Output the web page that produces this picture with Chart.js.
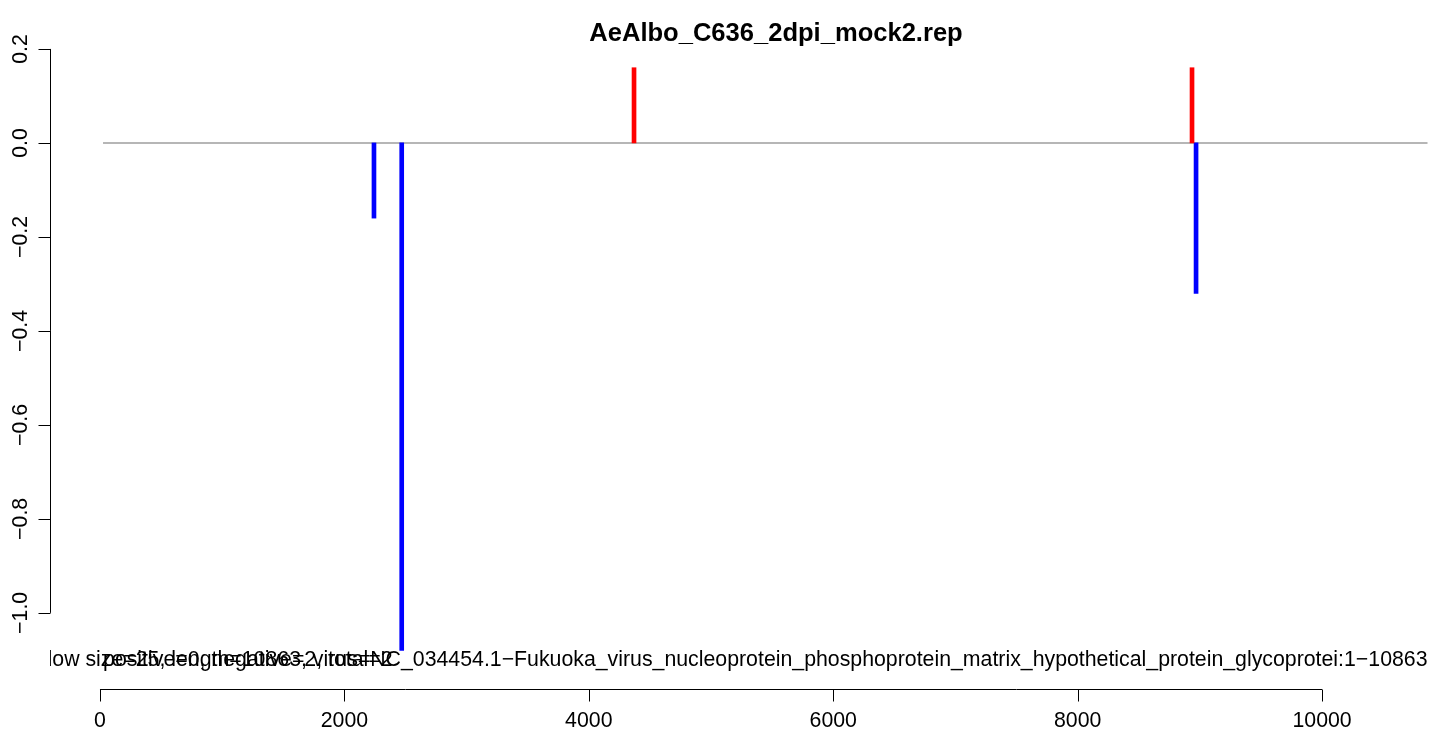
<!DOCTYPE html>
<html>
<head>
<meta charset="utf-8">
<script src="https://cdn.jsdelivr.net/npm/chart.js@4"></script>
<style>
  body { margin: 0; background: #fff; }
  canvas { display: block; }
</style>
</head>
<body>
<canvas id="repChart" width="1439" height="740"></canvas>
<script>
// data
const plusPos = [4370, 8936];
const plusVal = [0.16, 0.16];
const minusPos = [2242, 2469, 8969];
const minusVal = [-0.16, -1.08, -0.32];
const genomeStart = 25;
const genomeEnd = 10863;
const xTicks = [0, 2000, 4000, 6000, 8000, 10000];
const yTicks = [-1.0, -0.8, -0.6, -0.4, -0.2, 0.0, 0.2];

const titleText = 'AeAlbo_C636_2dpi_mock2.rep';
const infoText = 'window size=25, length=10863, virus=NC_034454.1\u2212Fukuoka_virus_nucleoprotein_phosphoprotein_matrix_hypothetical_protein_glycoprotei:1\u221210863';
const countText = 'positive=0, negative=2, total=2';

const FONT = '"Liberation Sans", Arial, Helvetica, sans-serif';
const BASE = 21.3;

function toPoints(xs, ys) {
  return xs.map((x, i) => ({ x: x, y: ys[i] }));
}

// R style axes and texts
const rAxes = {
  id: 'rAxes',
  afterDraw(chart) {
    const ctx = chart.ctx;
    const xs = chart.scales.x;
    const ys = chart.scales.y;
    const area = chart.chartArea;
    ctx.save();
    ctx.strokeStyle = '#000';
    ctx.fillStyle = '#000';
    ctx.lineWidth = 1;

    // x axis
    const yb = area.bottom + 0.5;
    ctx.beginPath();
    ctx.moveTo(xs.getPixelForValue(xTicks[0]), yb);
    ctx.lineTo(xs.getPixelForValue(xTicks[xTicks.length - 1]), yb);
    xTicks.forEach(t => {
      const px = Math.round(xs.getPixelForValue(t)) + 0.5;
      ctx.moveTo(px, yb);
      ctx.lineTo(px, yb + 12);
    });
    ctx.stroke();
    ctx.font = BASE + 'px ' + FONT;
    ctx.textAlign = 'center';
    ctx.textBaseline = 'middle';
    xTicks.forEach(t => {
      ctx.fillText(String(t), xs.getPixelForValue(t), yb + 32);
    });

    // y axis
    const xl = area.left + 0.5;
    ctx.beginPath();
    ctx.moveTo(xl, ys.getPixelForValue(yTicks[0]));
    ctx.lineTo(xl, ys.getPixelForValue(yTicks[yTicks.length - 1]));
    yTicks.forEach(t => {
      const py = Math.round(ys.getPixelForValue(t)) + 0.5;
      ctx.moveTo(xl, py);
      ctx.lineTo(xl - 12, py);
    });
    ctx.stroke();
    yTicks.forEach(t => {
      ctx.save();
      ctx.translate(xl - 29, ys.getPixelForValue(t));
      ctx.rotate(-Math.PI / 2);
      ctx.fillText(t.toFixed(1).replace('-', '\u2212'), 0, 0);
      ctx.restore();
    });

    // title
    ctx.font = 'bold ' + (BASE * 1.2) + 'px ' + FONT;
    ctx.fillText(titleText, 776, 34);

    // texts inside the plot, clipped like R
    ctx.beginPath();
    ctx.rect(area.left, area.top, area.right - area.left, area.bottom - area.top);
    ctx.clip();
    ctx.font = BASE + 'px ' + FONT;
    const ty = ys.getPixelForValue(-1.1);
    ctx.textAlign = 'right';
    ctx.fillText(infoText, xs.getPixelForValue(genomeEnd), ty);
    ctx.textAlign = 'left';
    ctx.fillText(countText, xs.getPixelForValue(genomeStart), ty);
    ctx.restore();
  }
};

new Chart(document.getElementById('repChart'), {
  type: 'bar',
  data: {
    datasets: [
      {
        type: 'line',
        label: 'baseline',
        data: toPoints([genomeStart, genomeEnd], [0, 0]),
        borderColor: '#9e9e9e',
        borderWidth: 1.5,
        pointRadius: 0,
        order: 2
      },
      {
        label: 'plus',
        data: toPoints(plusPos, plusVal),
        backgroundColor: '#ff0000',
        barThickness: 4,
        grouped: false,
        order: 1
      },
      {
        label: 'minus',
        data: toPoints(minusPos, minusVal),
        backgroundColor: '#0000ff',
        barThickness: 4,
        grouped: false,
        order: 1
      }
    ]
  },
  options: {
    responsive: false,
    animation: false,
    layout: { padding: { left: 50, right: 0, top: 40, bottom: 51 } },
    plugins: {
      legend: { display: false },
      tooltip: { enabled: false },
      title: { display: false }
    },
    scales: {
      x: { type: 'linear', display: false, offset: false, min: -409, max: 10957 },
      y: { type: 'linear', display: false, min: -1.162, max: 0.219 }
    }
  },
  plugins: [rAxes]
});
</script>
</body>
</html>
